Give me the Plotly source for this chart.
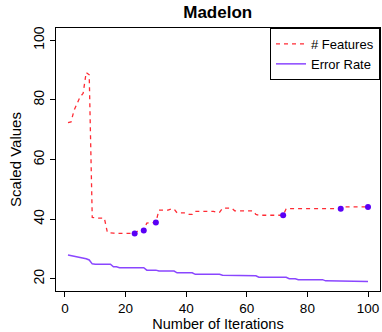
import plotly.graph_objects as go

iterations = list(range(1, 101))

features = [
    72.4, 72.6, 76.5, 79.0, 81.0, 82.2, 89.2, 88.4, 40.6, 40.4,
    40.4, 40.3, 40.3, 35.5, 35.3, 35.3, 35.2, 35.2, 35.2, 35.2,
    35.2, 35.2, 35.2, 36.0, 36.0, 36.2, 38.7, 38.8, 38.8, 38.9,
    43.0, 43.0, 43.0, 43.0, 43.4, 43.4, 42.1, 42.1, 42.1, 42.1,
    41.6, 41.6, 42.6, 42.6, 42.6, 42.6, 42.6, 42.6, 42.6, 42.3,
    42.3, 43.7, 43.7, 43.7, 43.7, 42.8, 42.8, 42.8, 42.8, 42.8,
    42.8, 42.8, 41.6, 41.3, 41.3, 41.3, 41.3, 41.3, 41.3, 41.3,
    41.3, 41.3, 43.5, 43.5, 43.5, 43.5, 43.5, 43.5, 43.5, 43.5,
    43.5, 43.5, 43.5, 43.5, 43.5, 43.5, 43.5, 43.5, 43.5, 43.5,
    43.5, 44.1, 44.1, 44.1, 44.1, 44.1, 44.1, 44.1, 44.1, 44.1,
]

error_rate = [
    28.0, 27.8, 27.6, 27.4, 27.2, 27.0, 26.7, 26.3, 25.0, 24.9,
    24.9, 24.9, 24.9, 24.9, 24.9, 24.0, 24.0, 23.7, 23.7, 23.7,
    23.7, 23.7, 23.7, 23.7, 23.7, 23.7, 22.9, 22.9, 22.9, 22.9,
    22.6, 22.6, 22.6, 22.6, 22.6, 22.6, 22.0, 22.0, 22.0, 22.0,
    22.0, 22.0, 21.5, 21.5, 21.5, 21.5, 21.5, 21.5, 21.5, 21.5,
    21.5, 21.2, 21.2, 21.2, 21.2, 21.2, 21.0, 21.0, 21.0, 21.0,
    21.0, 21.0, 21.0, 20.5, 20.5, 20.5, 20.5, 20.5, 20.5, 20.5,
    20.5, 20.5, 20.5, 20.0, 20.0, 20.0, 19.7, 19.7, 19.7, 19.7,
    19.7, 19.7, 19.7, 19.7, 19.7, 19.3, 19.3, 19.3, 19.3, 19.3,
    19.3, 19.1, 19.1, 19.1, 19.1, 19.1, 19.1, 19.1, 19.1, 19.1,
]

best_iters = [23, 26, 30, 72, 91, 100]
best_features = [35.2, 36.2, 38.9, 41.3, 43.5, 44.1]

x_ticks = [0, 20, 40, 60, 80, 100]
y_ticks = [20, 40, 60, 80, 100]

FONT = "Liberation Sans, Arial, Helvetica, sans-serif"

fig = go.Figure()
fig.add_trace(go.Scatter(
    x=iterations, y=features, mode="lines", name="# Features",
    line=dict(color="rgba(255,20,30,0.9)", width=1.3, dash="4px,4px"),
))
fig.add_trace(go.Scatter(
    x=iterations, y=error_rate, mode="lines", name="Error Rate",
    line=dict(color="rgba(125,50,255,0.9)", width=1.5),
))
fig.add_trace(go.Scatter(
    x=best_iters, y=best_features, mode="markers", showlegend=False,
    marker=dict(color="#5A00F5", size=6, line=dict(width=0)),
))

fig.update_layout(
    width=382, height=332,
    margin=dict(l=56, r=2, t=28, b=41),
    paper_bgcolor="white", plot_bgcolor="white",
    font=dict(family=FONT, size=14, color="black"),
    title=dict(text="<b>Madelon</b>", x=0.57, xanchor="center",
               y=0.965, yanchor="middle", font=dict(size=17, family=FONT)),
    showlegend=True,
    legend=dict(x=1, y=1, xanchor="right", yanchor="top",
                bordercolor="black", borderwidth=1, bgcolor="white",
                font=dict(size=13, family=FONT), tracegroupgap=0),
    xaxis=dict(
        range=[-2.96, 103.96], tickvals=x_ticks, ticks="outside", ticklen=5,
        tickcolor="black", showline=True, linecolor="black", linewidth=1,
        mirror=True, showgrid=False, zeroline=False,
        title=dict(text="Number of Iterations", font=dict(size=14.5), standoff=1),
        tickfont=dict(size=13.5),
    ),
    yaxis=dict(
        range=[15.9, 104.1], tickvals=y_ticks, ticks="outside", ticklen=5,
        tickcolor="black", showline=True, linecolor="black", linewidth=1,
        mirror=True, showgrid=False, zeroline=False, tickangle=-90,
        title=dict(text="Scaled Values", font=dict(size=15), standoff=6),
        tickfont=dict(size=14),
    ),
)

fig.write_html("out.html")
